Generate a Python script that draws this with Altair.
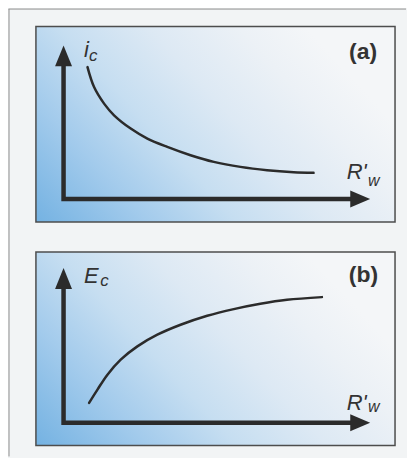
import altair as alt
import pandas as pd

# ---------------- data (abstract units) ----------------
# panel (a): i_c falls as R'_w grows
curve_a_x = [0.867, 1.105, 1.467, 1.828, 2.431, 3.034, 3.756, 4.597, 5.439, 6.403, 7.366, 8.328, 9.050]
curve_a_y = [5.735, 4.867, 4.147, 3.640, 3.063, 2.630, 2.267, 1.905, 1.616, 1.398, 1.255, 1.168, 1.138]
# panel (b): E_c rises as R'_w grows
curve_b_x = [0.925, 1.228, 1.589, 2.069, 2.672, 3.395, 4.236, 5.200, 6.161, 7.125, 8.089, 9.353]
curve_b_y = [0.871, 1.454, 2.111, 2.769, 3.352, 3.864, 4.302, 4.697, 4.990, 5.223, 5.398, 5.516]

# arrow tips of the two axes
axis_tip_x = [11.10, 11.10]
axis_tip_y = [6.68, 6.79]

# axis symbols
y_symbol = ["i", "E"]
y_symbol_sub = ["c", "c"]
x_symbol = ["R'", "R'"]
x_symbol_sub = ["w", "w"]
panel_tag = ["(a)", "(b)"]

y_symbol_pos = [(0.744, 6.168), (0.744, 6.156)]
y_sub_pos = [(0.925, 5.995), (1.330, 6.011)]
x_symbol_pos = [(10.25, 0.865), (10.25, 0.578)]
x_sub_pos = [(11.02, 0.560), (11.02, 0.460)]
tag_pos = [(11.35, 6.090), (11.386, 6.187)]

# ---------------- styling ----------------
W = 360
HEIGHTS = [196, 194]
XDOM = [-1, 12]
YDOM = [-1, 7.5]
INK = "#2b2b2b"
TXT = "#333333"
FONT = "Liberation Sans"

grad = alt.Gradient(
    gradient="linear", x1=0, y1=1, x2=1, y2=0.5,
    stops=[
        alt.GradientStop(color="#74b2e2", offset=0),
        alt.GradientStop(color="#a3cbec", offset=0.25),
        alt.GradientStop(color="#c6def1", offset=0.45),
        alt.GradientStop(color="#dde9f4", offset=0.65),
        alt.GradientStop(color="#ecf1f6", offset=0.85),
        alt.GradientStop(color="#f4f6f8", offset=1),
    ],
)

XS = alt.Scale(domain=XDOM, nice=False, zero=False)
YS = alt.Scale(domain=YDOM, nice=False, zero=False)


def xq(f="x"):
    return alt.X(f"{f}:Q", scale=XS, axis=None)


def yq(f="y"):
    return alt.Y(f"{f}:Q", scale=YS, axis=None)


def text_layer(txt, pos, size, style="italic", weight="normal", align="left"):
    df = pd.DataFrame({"t": [txt], "x": [pos[0]], "y": [pos[1]]})
    return alt.Chart(df).mark_text(
        font=FONT, fontSize=size, fontStyle=style, fontWeight=weight,
        align=align, baseline="alphabetic", color=TXT,
    ).encode(x=xq(), y=yq(), text="t:N")


def panel(i, cx, cy, frame=False):
    one = pd.DataFrame({"k": [0]})
    bg = alt.Chart(one).mark_rect(fill=grad, stroke="#4d4d4d", strokeWidth=1.5).encode(
        x=alt.value(0), x2=alt.value("width"), y=alt.value(0), y2=alt.value("height")
    )
    tx, ty = axis_tip_x[i], axis_tip_y[i]
    axis_df = pd.DataFrame({
        "x": [0, 0, tx - 0.45],
        "y": [ty - 0.55, 0, 0],
        "o": [0, 1, 2],
    })
    axes = alt.Chart(axis_df).mark_line(
        strokeWidth=4.5, color=INK, strokeJoin="miter", strokeCap="butt"
    ).encode(x=xq(), y=yq(), order="o:Q")
    up = alt.Chart(pd.DataFrame({"x": [0], "y": [ty]})).mark_point(
        shape="M0,0L0.85,2.1L-0.85,2.1Z", size=400, filled=True, opacity=1,
        color=INK, strokeWidth=0,
    ).encode(x=xq(), y=yq())
    right = alt.Chart(pd.DataFrame({"x": [tx], "y": [0]})).mark_point(
        shape="M0,0L-2,0.85L-2,-0.85Z", size=400, filled=True, opacity=1,
        color=INK, strokeWidth=0,
    ).encode(x=xq(), y=yq())
    curve = alt.Chart(pd.DataFrame({"x": cx, "y": cy, "o": list(range(len(cx)))})).mark_line(
        interpolate="catmull-rom", strokeWidth=2.5, color=INK, strokeCap="round"
    ).encode(x=xq(), y=yq(), order="o:Q")

    layers = [bg, axes, up, right, curve,
              text_layer(y_symbol[i], y_symbol_pos[i], 22),
              text_layer(y_symbol_sub[i], y_sub_pos[i], 17),
              text_layer(x_symbol[i], x_symbol_pos[i], 22),
              text_layer(x_symbol_sub[i], x_sub_pos[i], 16),
              text_layer(panel_tag[i], tag_pos[i], 23, style="normal", weight="bold", align="right")]
    if frame:
        left_edge = alt.Chart(one).mark_rule(color="#8f8f8f", strokeWidth=1).encode(
            x=alt.value(-27), y=alt.value(-17.5), y2=alt.value(431)
        )
        top_edge = alt.Chart(one).mark_rule(color="#8f8f8f", strokeWidth=1).encode(
            x=alt.value(-27.5), x2=alt.value(371), y=alt.value(-17.5)
        )
        layers = [left_edge, top_edge] + layers
    return alt.layer(*layers).properties(width=W, height=HEIGHTS[i])


panel_a = panel(0, curve_a_x, curve_a_y, frame=True)
panel_b = panel(1, curve_b_x, curve_b_y)

chart = (
    alt.vconcat(panel_a, panel_b, spacing=30, bounds="flush")
    .properties(background="#f2f4f5", padding=0)
    .configure_view(strokeWidth=0)
)

chart.save("out.html", embed_options={"renderer": "svg", "actions": False})
